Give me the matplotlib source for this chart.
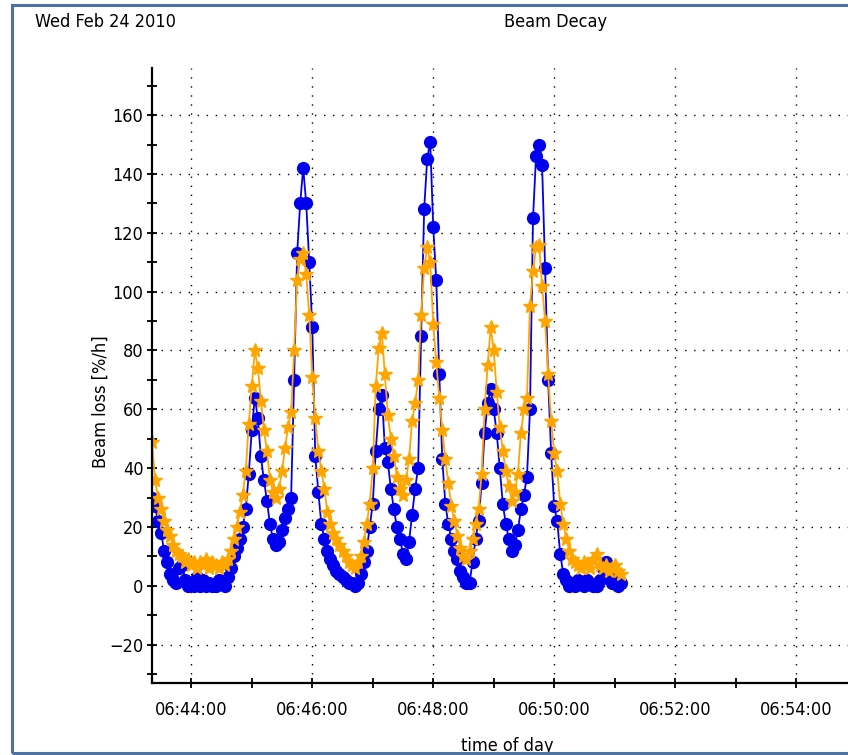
import numpy as np
import matplotlib; matplotlib.use("Agg")
import matplotlib.pyplot as plt
from matplotlib.patches import Rectangle
from matplotlib.ticker import MultipleLocator, FuncFormatter

plt.rcParams["font.family"] = ["Liberation Sans Narrow", "DejaVu Sans"]
plt.rcParams["font.stretch"] = "condensed"

# samples every 3 s, first one at 06:43:21
T_START = 6 * 3600 + 43 * 60 + 21
STEP = 3

blue_loss = [30, 27, 22, 18, 12, 8, 4, 2, 1, 6, 7, 2, 0, 1, 0, 3, 0, 2, 0, 1,
             0, 0, 2, 1, 0, 3, 6, 10, 13, 16, 20, 26, 38, 53, 64, 57, 44, 36, 29, 21,
             16, 14, 15, 19, 23, 26, 30, 70, 113, 130, 142, 130, 110, 88, 44, 32, 21, 16, 12, 9,
             7, 5, 4, 3, 2, 1, 1, 0, 1, 4, 8, 12, 20, 28, 46, 60, 65, 47, 42, 33,
             26, 20, 16, 11, 9, 15, 24, 33, 40, 85, 128, 145, 151, 122, 104, 72, 43, 28, 21, 16,
             12, 9, 5, 3, 1, 1, 8, 16, 22, 35, 52, 62, 67, 60, 52, 40, 28, 21, 16, 12,
             14, 19, 26, 31, 37, 60, 125, 146, 150, 143, 108, 70, 45, 27, 22, 11, 4, 2, 0, 1,
             0, 2, 1, 0, 2, 1, 0, 0, 2, 6, 8, 3, 1, 2, 0, 1]

orange_loss = [49, 36, 30, 26, 22, 19, 17, 14, 12, 11, 10, 8, 9, 7, 8, 6, 8, 7, 9, 6,
               8, 7, 6, 8, 7, 9, 12, 16, 20, 25, 31, 39, 55, 68, 80, 74, 63, 53, 46, 36,
               32, 30, 33, 39, 47, 54, 59, 80, 104, 111, 113, 106, 92, 71, 57, 46, 39, 33, 25, 21,
               18, 16, 14, 12, 10, 8, 7, 6, 8, 10, 15, 21, 28, 40, 68, 81, 86, 72, 58, 50,
               44, 37, 33, 31, 36, 43, 56, 62, 70, 92, 108, 115, 110, 89, 76, 64, 53, 43, 35, 27,
               22, 17, 13, 10, 9, 12, 16, 21, 26, 38, 60, 75, 88, 80, 66, 54, 46, 39, 34, 29,
               32, 38, 52, 60, 64, 95, 107, 115, 116, 102, 90, 72, 56, 45, 39, 28, 21, 16, 12, 9,
               8, 7, 6, 8, 7, 6, 9, 11, 7, 6, 7, 5, 6, 7, 5, 4]

t = T_START + STEP * np.arange(len(blue_loss))

def hms(v, pos=None):
    v = int(round(v))
    return f"{v // 3600:02d}:{v % 3600 // 60:02d}:{v % 60:02d}"

FS = 13

fig = plt.figure(figsize=(8.48, 7.55), dpi=100)
ax = fig.add_axes([152 / 848, 72 / 755, 1 - 152 / 848, (683 - 68) / 755])

ax.plot(t, blue_loss, color="#0000ee", lw=1.3, marker="o", ms=8.5, mec="#0000ee", mfc="#0000ee")
ax.plot(t, orange_loss, color="#ffa500", lw=1.3, marker="*", ms=10.5, mec="#ffa500", mfc="#ffa500")

ax.set_xlim(T_START, T_START + 690.5)
ax.set_ylim(-33, 176)
ax.xaxis.set_major_locator(MultipleLocator(120))
ax.xaxis.set_minor_locator(MultipleLocator(60))
ax.xaxis.set_major_formatter(FuncFormatter(hms))
ax.yaxis.set_major_locator(MultipleLocator(20))
ax.yaxis.set_minor_locator(MultipleLocator(10))

for s in ("top", "right"):
    ax.spines[s].set_visible(False)
for s in ("left", "bottom"):
    ax.spines[s].set_linewidth(1.6)
ax.tick_params(which="both", direction="inout", length=6.5, width=1.3, labelsize=FS)
ax.tick_params(axis="x", pad=10)
ax.tick_params(axis="y", pad=3)
ax.grid(True, which="major", color="black", lw=1.0, ls=(0, (1, 5.5)))

ax.set_ylabel("Beam loss [%/h]", fontsize=FS)
ax.yaxis.set_label_coords(-0.061, 0.457)
ax.set_xlabel("time of day", fontsize=FS)
ax.xaxis.set_label_coords(0.51, -0.088)

fig.text(35 / 848, 1 - 22 / 755, "Wed Feb 24 2010", fontsize=FS, va="center", ha="left")
fig.text(556 / 848, 1 - 22 / 755, "Beam Decay", fontsize=FS, va="center", ha="center")

fig.add_artist(Rectangle((12 / 848, 2 / 755), 860 / 848, 748 / 755, transform=fig.transFigure,
                         fill=False, edgecolor="#4f70a3", lw=2.2))

fig.savefig("out.png", dpi=100)
